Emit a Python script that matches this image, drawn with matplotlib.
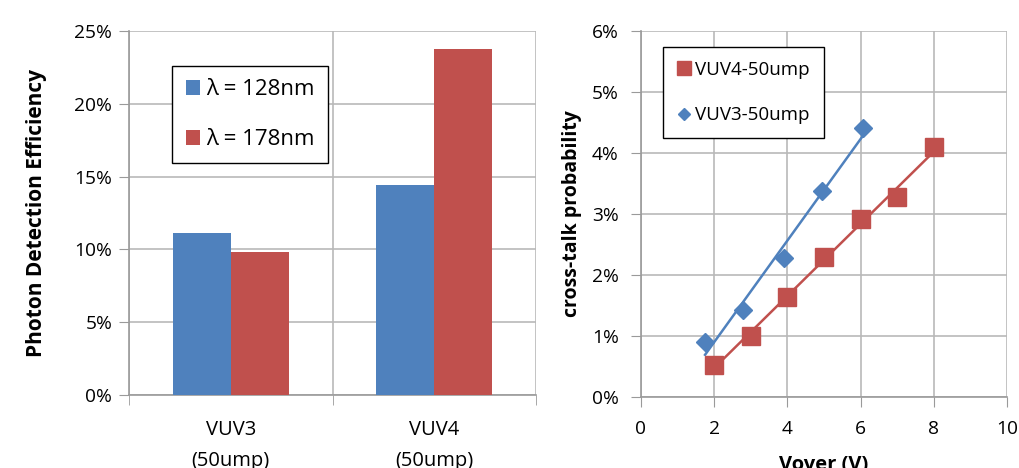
import numpy as np
import matplotlib
matplotlib.use("Agg")
import matplotlib.pyplot as plt
from matplotlib.ticker import FuncFormatter

plt.rcParams['font.family'] = ['Open Sans', 'DejaVu Sans']

# photon detection efficiency (%)
categories = ['VUV3\n(50ump)', 'VUV4\n(50ump)']
pde_128 = [11.1, 14.4]
pde_178 = [9.85, 23.75]
pde_labels = ['λ = 128nm', 'λ = 178nm']

# cross-talk probability (%) vs over-voltage (V)
vuv3_v = [1.75, 2.8, 3.9, 4.95, 6.05]
vuv3_ct = [0.9, 1.42, 2.27, 3.37, 4.4]
vuv4_v = [2, 3, 4, 5, 6, 7, 8]
vuv4_ct = [0.52, 1.0, 1.63, 2.29, 2.92, 3.28, 4.09]

blue = '#4F81BD'
red = '#C0504D'
grid_c = '#b9b9b9'
axis_c = '#9a9a9a'
pct = FuncFormatter(lambda v, p: '{:.0f}%'.format(v))

fig = plt.figure(figsize=(10.2, 4.68), dpi=100)

# left panel: bars
ax1 = fig.add_axes([0.1265, 0.156, 0.399, 0.778])
x = np.arange(len(categories))
w = 0.285
ax1.bar(x - w/2, pde_128, w, color=blue, label=pde_labels[0], zorder=3)
ax1.bar(x + w/2, pde_178, w, color=red, label=pde_labels[1], zorder=3)
ax1.set_xlim(-0.5, 1.5)
ax1.set_ylim(0, 25)
ax1.set_yticks(np.arange(0, 26, 5))
ax1.yaxis.set_major_formatter(pct)
ax1.set_xticks(x)
ax1.set_xticklabels(categories, linespacing=1.75)
ax1.set_xticks([-0.5, 0.5, 1.5], minor=True)
ax1.tick_params(axis='x', which='major', length=0, pad=18, labelsize=14.5)
ax1.tick_params(axis='x', which='minor', length=7, color=axis_c)
ax1.tick_params(axis='y', length=7, color=axis_c, labelsize=13.8, pad=5)
ax1.grid(axis='y', color=grid_c, lw=1.2, zorder=0)
ax1.grid(axis='x', which='minor', color=grid_c, lw=1.2, zorder=0)
for s in ['top', 'right']:
    ax1.spines[s].set_visible(False)
for s in ['left', 'bottom']:
    ax1.spines[s].set_color(axis_c)
    ax1.spines[s].set_linewidth(1.2)
ax1.set_ylabel('Photon Detection Efficiency', fontsize=15, fontweight='bold', labelpad=20)
leg1 = ax1.legend(loc='upper left', bbox_to_anchor=(0.106, 0.904), fontsize=16,
                  frameon=True, fancybox=False, edgecolor='black', framealpha=1,
                  handlelength=0.65, handleheight=0.65, handletextpad=0.3,
                  labelspacing=1.3, borderpad=0.6, borderaxespad=0)
leg1.get_frame().set_linewidth(1.0)

# right panel: cross-talk
ax2 = fig.add_axes([0.6284, 0.152, 0.359, 0.782])
p3 = np.polyfit(vuv3_v, vuv3_ct, 1)
p4 = np.polyfit(vuv4_v, vuv4_ct, 1)
xs3 = np.array([min(vuv3_v), max(vuv3_v)])
xs4 = np.array([min(vuv4_v), max(vuv4_v)])
ax2.plot(xs4, np.polyval(p4, xs4), color=red, lw=1.8, zorder=3)
ax2.plot(xs3, np.polyval(p3, xs3), color=blue, lw=1.8, zorder=3)
ax2.plot(vuv4_v, vuv4_ct, 's', color=red, ms=13.5, mec=red, label='VUV4-50ump', zorder=4)
ax2.plot(vuv3_v, vuv3_ct, 'D', color=blue, ms=9, mec=blue, label='VUV3-50ump', zorder=4)
ax2.set_xlim(0, 10)
ax2.set_ylim(0, 6)
ax2.set_xticks(np.arange(0, 11, 2))
ax2.set_yticks(np.arange(0, 7, 1))
ax2.yaxis.set_major_formatter(pct)
ax2.tick_params(axis='both', length=7, color=axis_c, labelsize=13.8)
ax2.tick_params(axis='y', pad=9)
ax2.tick_params(axis='x', pad=10)
ax2.grid(True, color=grid_c, lw=1.2, zorder=0)
for s in ['top', 'right']:
    ax2.spines[s].set_visible(False)
for s in ['left', 'bottom']:
    ax2.spines[s].set_color(axis_c)
    ax2.spines[s].set_linewidth(1.2)
ax2.set_ylabel('cross-talk probability', fontsize=14, fontweight='bold', labelpad=7)
ax2.set_xlabel('Vover (V)', fontsize=14.5, fontweight='bold', labelpad=12)
leg2 = ax2.legend(loc='upper left', bbox_to_anchor=(0.06, 0.956), fontsize=13.5,
                  frameon=True, fancybox=False, edgecolor='black', framealpha=1,
                  markerscale=0.7, handlelength=0.7, handletextpad=0.25,
                  labelspacing=1.45, borderpad=0.75, borderaxespad=0)
leg2.get_frame().set_linewidth(1.0)

fig.savefig('out.png', dpi=100)
